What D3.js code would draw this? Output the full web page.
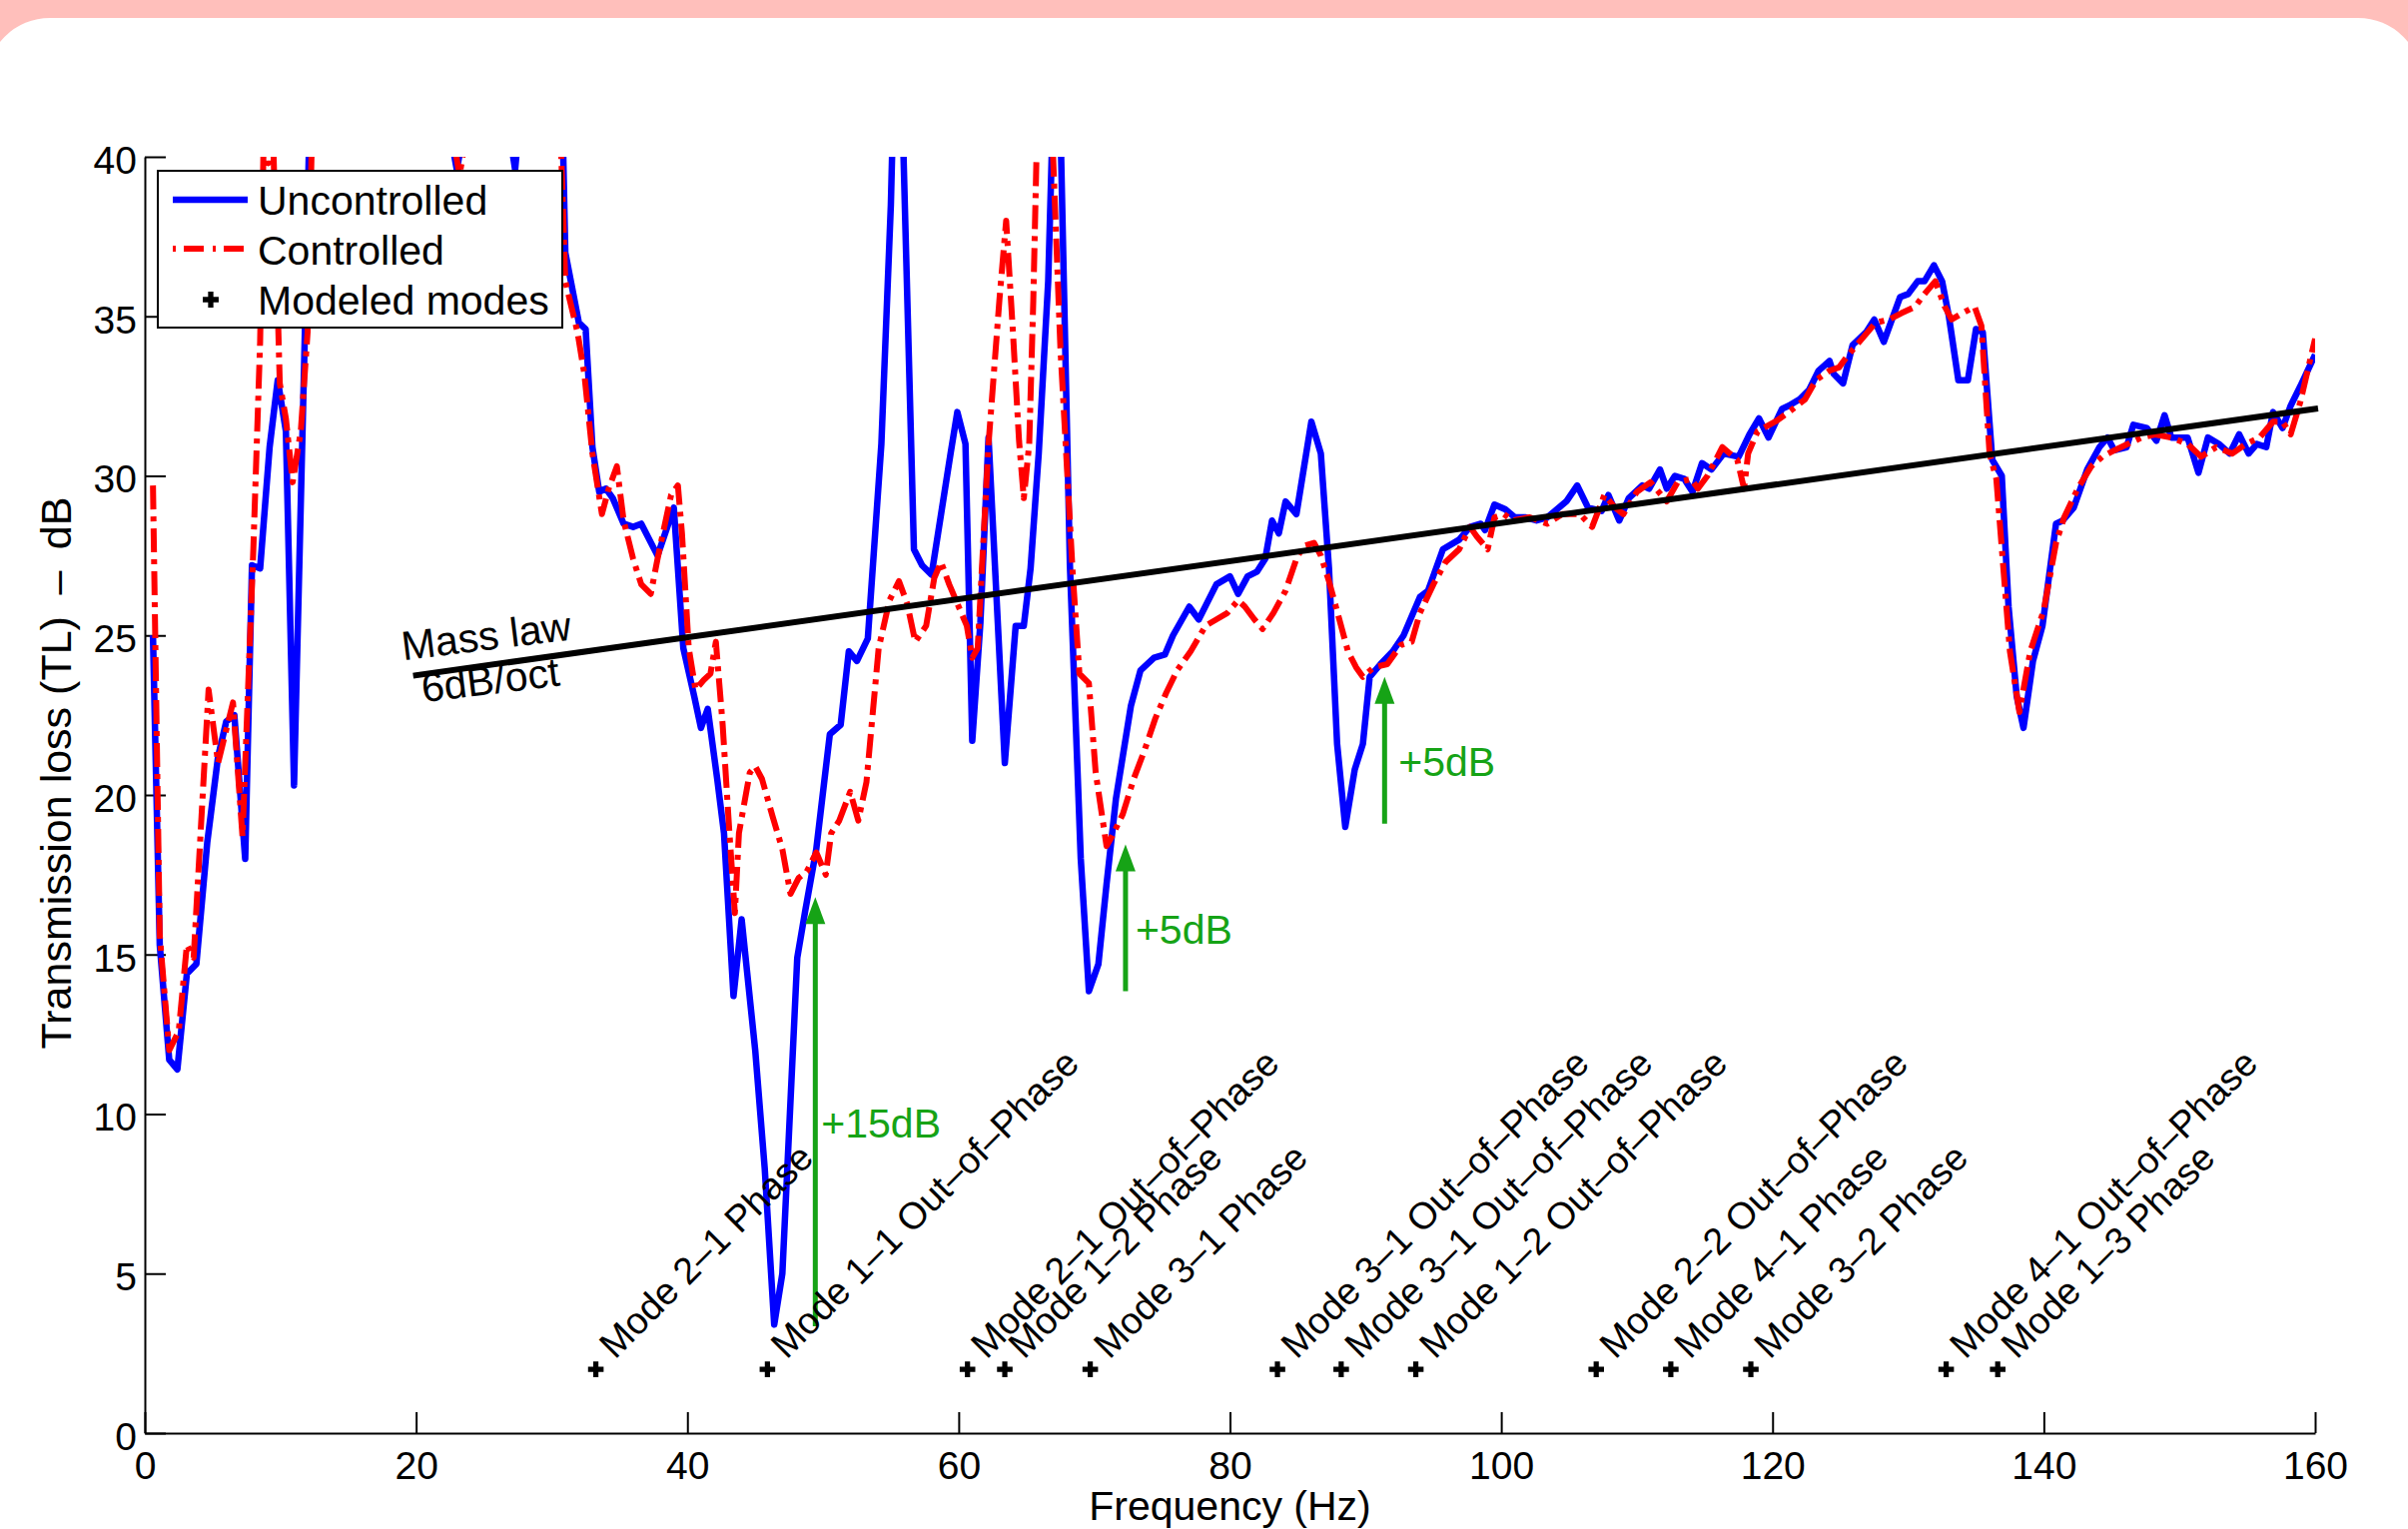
<!DOCTYPE html>
<html lang="en">
<head>
<meta charset="UTF-8">
<script src="https://cdn.jsdelivr.net/npm/d3@7"></script>
<title>Transmission loss</title>
<style>
    * { margin: 0; padding: 0; box-sizing: border-box; }
    body { width: 2411px; height: 1531px; overflow: hidden; background: #ffbfbb; }
    svg { display: block; }
    text { font-family: "Liberation Sans", Arial, Helvetica, sans-serif; fill: #000; }
</style>
</head>
<body>
<svg id="chart" width="2411" height="1531"></svg>
<script>
// ---- data ----
const freqUncontrolled = [
    0.6, 1.1, 1.8, 2.4, 3.1, 3.8, 4.6, 5.4, 6.0, 6.6, 7.4, 7.9, 8.5, 9.2, 9.8, 10.4, 11.0, 11.8, 12.4,
    17.0, 22.4, 23.0, 23.6, 26.8, 27.3, 27.8, 30.6,
    31.0, 32.0, 32.5, 33.0, 33.5, 34.0, 34.5, 35.3, 36.0, 36.6, 37.8, 39.0, 39.7, 40.5, 41.0, 41.5, 42.2, 42.7, 43.4, 44.0, 45.0, 45.7, 46.4, 47.0, 48.1, 48.7, 49.5, 50.5, 51.3, 51.9, 52.5, 53.3, 54.3, 55.0, 55.5,
    56.7, 57.3, 58.0, 59.4, 59.9, 60.5, 61.0, 61.6, 62.2, 63.4, 64.2, 64.8, 65.3, 65.9, 66.6, 67.25, 68.2, 69.0, 69.6,
    70.3, 70.9, 71.6, 72.7, 73.4, 74.4, 75.2, 75.8, 77.0, 77.7, 79.0, 80.0, 80.6, 81.3, 82.0, 82.6, 83.1, 83.6, 84.1, 84.9, 86.0, 86.7, 87.3, 87.9, 88.5, 89.2, 89.8, 90.3, 91.1, 92.0, 92.8, 94.0, 94.6, 95.7, 96.9, 97.7, 98.5, 98.8, 99.5,
    100.3, 101.0, 101.8, 102.6, 103.4, 104.8, 105.6, 106.4, 107.4, 107.9, 108.7, 109.4, 110.4, 110.9, 111.7, 112.2, 112.8, 113.5, 114.1, 114.8, 115.5, 116.4, 117.5, 118.3, 119.0, 119.7,
    120.7, 121.2, 122.0, 122.7, 123.4, 124.2, 124.5, 125.2, 125.9, 126.9, 127.5, 128.2, 129.4, 130.0, 130.7, 131.2, 131.9, 132.5, 133.0, 133.7, 134.4, 135.0, 135.5, 136.2, 136.9, 137.4, 138.0, 138.5, 139.2, 139.9,
    140.9, 141.4, 142.2, 143.2, 144.1, 144.7, 145.2, 146.1, 146.6, 147.6, 148.3, 148.9, 149.4, 150.6, 151.4, 152.1, 152.9, 153.7, 154.4, 155.1, 155.7, 156.4, 156.9, 157.6, 158.2, 158.9, 160.0
];
const tlUncontrolled = [
    25.0, 15.3, 11.7, 11.4, 14.4, 14.7, 18.5, 21.2, 22.3, 22.5, 18.0, 27.2, 27.1, 30.9, 33.0, 31.4, 20.3, 34.5, 46,
    48, 41, 39.6, 41, 41, 39.6, 42, 45,
    37.0, 34.8, 34.6, 30.9, 29.5, 29.6, 29.3, 28.5, 28.4, 28.5, 27.5, 29.0, 24.6, 23.1, 22.1, 22.7, 20.5, 18.8, 13.7, 16.1, 12.0, 8.3, 3.4, 5.0, 14.9, 16.4, 18.3, 21.9, 22.2, 24.5, 24.2, 24.9, 31.0, 38.5, 47,
    27.7, 27.2, 26.9, 30.7, 32.0, 31.0, 21.7, 25.4, 31.2, 21.0, 25.3, 25.3, 27.1, 30.7, 36.1, 46, 27.2, 18.0, 13.85,
    14.7, 17.2, 19.9, 22.8, 23.9, 24.3, 24.4, 25.0, 25.9, 25.5, 26.6, 26.85, 26.3, 26.85, 27.0, 27.4, 28.6, 28.2, 29.2, 28.8, 31.7, 30.7, 27.1, 21.6, 19.0, 20.8, 21.6, 23.7, 24.1, 24.5, 25.0, 26.2, 26.4, 27.7, 28.0, 28.4, 28.5, 28.3, 29.1,
    28.95, 28.7, 28.7, 28.6, 28.7, 29.2, 29.7, 29.0, 28.9, 29.4, 28.6, 29.3, 29.7, 29.6, 30.2, 29.6, 30.0, 29.9, 29.5, 30.4, 30.2, 30.7, 30.6, 31.3, 31.8, 31.2,
    32.1, 32.2, 32.4, 32.7, 33.3, 33.6, 33.2, 32.9, 34.1, 34.5, 34.9, 34.2, 35.6, 35.7, 36.1, 36.1, 36.6, 36.1, 35.0, 33.0, 33.0, 34.6, 34.5, 30.5, 30.0, 25.9, 23.1, 22.1, 24.2, 25.3,
    28.5, 28.6, 29.0, 30.2, 30.9, 31.2, 30.8, 30.9, 31.6, 31.5, 31.1, 31.9, 31.2, 31.2, 30.1, 31.2, 31.0, 30.7, 31.3, 30.7, 31.0, 30.9, 32.0, 31.5, 32.2, 32.8, 33.8
];

const freqControlled = [
    0.6, 1.1, 1.8, 2.5, 3.1, 3.6, 4.7, 5.4, 6.5, 7.2, 8.0, 8.5, 8.8, 9.1, 9.4, 9.95, 10.4, 10.9, 11.5, 12.0, 12.6,
    17.0, 22.6, 23.2, 23.8, 30.4,
    31.0, 31.9, 32.4, 33.0, 33.7, 34.2, 34.8, 35.3, 36.0, 36.6, 37.3, 37.8, 38.8, 39.3, 39.6,
    40.1, 40.6, 41.2, 41.7, 42.1, 42.6, 43.1, 43.5, 43.8, 44.6, 45.0, 45.5, 46.3, 47.0, 47.6, 48.2, 48.8, 49.5,
    50.2, 50.6, 51.2, 52.0, 52.6, 53.2, 54.1, 54.9, 55.6, 56.2, 56.8, 57.6, 58.2, 58.7, 59.3,
    60.0, 60.6, 61.0, 61.4, 62.2, 63.0, 63.5, 64.0, 64.45, 64.8, 65.2, 65.5, 66.1, 66.6, 67.5, 68.4, 68.9, 69.6,
    70.1, 70.9, 71.3, 72.1, 72.9, 73.7, 74.5, 75.3, 76.1, 77.1, 78.2, 79.0, 79.8,
    80.6, 81.1, 81.8, 82.4, 83.2, 84.1, 84.9, 85.4, 86.2, 86.7, 87.3, 88.0, 88.7, 89.3, 89.8,
    90.6, 91.6, 92.6, 93.4, 94.0, 95.0, 95.9, 96.9, 97.7, 98.2, 99.0, 99.5,
    100.2, 100.8, 102.1, 103.4, 104.5, 105.8, 106.7, 107.6, 108.4, 109.0,
    110.0, 111.0, 112.2, 113.0, 114.0, 114.5, 115.2, 116.3, 117.4, 117.9, 118.2, 118.9,
    120.2, 121.2, 122.4, 123.2, 124.2, 124.9, 125.6, 126.6, 127.6, 128.6, 129.5,
    130.5, 131.2, 132.0, 132.7, 133.2, 134.0, 134.9, 135.4, 136.0, 136.5, 137.5, 138.2, 139.0,
    140.0, 140.9, 141.5, 142.5, 143.5, 144.3, 145.2, 146.2, 147.2, 148.2, 149.4,
    150.6, 151.6, 152.7, 153.9, 154.9, 155.9, 156.9, 157.6, 158.2, 158.9, 160.0
];
const tlControlled = [
    29.7, 15.6, 12.0, 12.6, 15.3, 14.9, 23.3, 21.0, 22.9, 18.7, 27.7, 34.2, 41.5, 39.8, 41.5, 32.9, 31.8, 29.8, 31.4, 34.5, 46,
    48, 41, 39.4, 41, 44,
    36.1, 34.5, 33.2, 30.7, 28.8, 29.6, 30.3, 28.6, 27.4, 26.6, 26.3, 27.4, 29.4, 29.7, 28.2,
    24.6, 23.3, 23.6, 23.8, 24.8, 22.2, 18.8, 16.3, 18.8, 20.7, 20.9, 20.5, 19.3, 18.3, 16.9, 17.4, 17.6, 18.2,
    17.5, 18.8, 19.2, 20.1, 19.2, 20.4, 24.6, 26.1, 26.7, 26.0, 24.8, 25.3, 26.8, 27.3, 26.6,
    25.9, 25.3, 24.3, 24.6, 31.0, 35.5, 38.0, 34.5, 31.1, 29.3, 31.0, 35.5, 47, 44, 34.0, 27.0, 23.8, 23.5,
    20.7, 18.4, 18.7, 19.4, 20.5, 21.4, 22.4, 23.2, 23.9, 24.5, 25.3, 25.5, 25.7,
    26.1, 25.9, 25.5, 25.2, 25.7, 26.4, 27.4, 27.8, 27.9, 27.5, 26.7, 25.6, 24.5, 24.0, 23.7,
    24.0, 24.1, 24.7, 24.8, 25.7, 26.6, 27.3, 27.7, 28.4, 28.1, 27.7, 28.7,
    28.8, 28.6, 28.7, 28.5, 28.8, 28.8, 28.4, 29.4, 29.0, 28.8,
    29.5, 29.8, 29.2, 29.8, 29.9, 29.6, 30.0, 30.9, 30.5, 29.6, 30.7, 31.4,
    31.7, 32.0, 32.4, 33.0, 33.3, 33.4, 33.8, 34.3, 34.8, 34.9, 35.1,
    35.3, 35.7, 36.1, 35.3, 34.9, 35.1, 35.3, 34.7, 30.7, 29.9, 24.5, 22.6, 24.5,
    25.8, 27.9, 28.7, 29.6, 30.3, 30.6, 30.8, 31.0, 31.2, 31.3, 31.2,
    31.0, 30.6, 30.9, 30.7, 31.0, 31.2, 31.7, 31.7, 31.3, 32.3, 34.3
];

const massLawFreq = [20, 160];
const massLawTL = [23.75, 32.1];

const modeFreqs = [33.25, 45.9, 60.65, 63.4, 69.7, 83.5, 88.2, 93.7, 107.0, 112.5, 118.4, 132.8, 136.6];
const modeLabels = [
    'Mode 2\u20131 Phase', 'Mode 1\u20131 Out\u2013of\u2013Phase', 'Mode 2\u20131 Out\u2013of\u2013Phase',
    'Mode 1\u20132 Phase', 'Mode 3\u20131 Phase', 'Mode 3\u20131 Out\u2013of\u2013Phase',
    'Mode 3\u20131 Out\u2013of\u2013Phase', 'Mode 1\u20132 Out\u2013of\u2013Phase', 'Mode 2\u20132 Out\u2013of\u2013Phase',
    'Mode 4\u20131 Phase', 'Mode 3\u20132 Phase', 'Mode 4\u20131 Out\u2013of\u2013Phase', 'Mode 1\u20133 Phase'
];
const modeMarkerTL = 2;

const gainFreq = [49.43, 72.3, 91.4];
const gainFrom = [3.35, 13.85, 19.1];
const gainTo = [16.8, 18.45, 23.7];
const gainLabels = ['+15dB', '+5dB', '+5dB'];

const xTicks = [0, 20, 40, 60, 80, 100, 120, 140, 160];
const yTicks = [0, 5, 10, 15, 20, 25, 30, 35, 40];

// ---- drawing ----
const svg = d3.select('#chart');
const green = '#16a316';

svg.append('rect').attr('width', 2411).attr('height', 1531).attr('fill', '#ffbfbb');
svg.append('rect')
    .attr('x', -14).attr('y', 18)
    .attr('width', 2439).attr('height', 1650)
    .attr('rx', 64)
    .attr('fill', '#ffffff');

const plot = { left: 145, right: 2318, top: 157, bottom: 1435 };

const x = d3.scaleLinear().domain([0, 160]).range([plot.left, plot.right]);
const y = d3.scaleLinear().domain([0, 40]).range([plot.bottom, plot.top]);

svg.append('clipPath').attr('id', 'plot-clip')
    .append('rect')
    .attr('x', plot.left).attr('y', plot.top)
    .attr('width', plot.right - plot.left).attr('height', plot.bottom - plot.top);

function styleAxis(g) {
    g.selectAll('path, line').attr('stroke', '#000').attr('stroke-width', 2);
    g.selectAll('text').attr('font-size', 39).attr('fill', '#000')
        .attr('font-family', '"Liberation Sans", Arial, sans-serif');
}

let xAxis = d3.axisBottom(x).tickValues(xTicks).tickSizeInner(-21).tickSizeOuter(0).tickPadding(18);
let yAxis = d3.axisLeft(y).tickValues(yTicks).tickSizeInner(-21).tickSizeOuter(0).tickPadding(8);

svg.append('g')
    .attr('transform', `translate(0, ${plot.bottom})`)
    .call(xAxis)
    .call(styleAxis);

svg.append('g')
    .attr('transform', `translate(${plot.left}, 0)`)
    .call(yAxis)
    .call(styleAxis)
    .call(g => g.selectAll('text').attr('dy', '0.42em'));

// axis titles
svg.append('text')
    .attr('x', (plot.left + plot.right) / 2)
    .attr('y', 1522)
    .attr('text-anchor', 'middle')
    .attr('font-size', 41)
    .text('Frequency (Hz)');

svg.append('text')
    .attr('transform', `translate(71, ${(plot.top + plot.bottom) / 2 - 22}) rotate(-90)`)
    .attr('text-anchor', 'middle')
    .attr('font-size', 43)
    .text('Transmission loss (TL)\u2002\u2013\u2002dB');

// measured curves
let line = d3.line().x(d => x(d[0])).y(d => y(d[1]));
let curves = svg.append('g').attr('clip-path', 'url(#plot-clip)');

curves.append('path')
    .datum(d3.zip(freqUncontrolled, tlUncontrolled))
    .attr('d', line)
    .attr('fill', 'none')
    .attr('stroke', '#0000ff')
    .attr('stroke-width', 6.5)
    .attr('stroke-linejoin', 'round');

curves.append('path')
    .datum(d3.zip(freqControlled, tlControlled))
    .attr('d', line)
    .attr('fill', 'none')
    .attr('stroke', '#ff0000')
    .attr('stroke-width', 6)
    .attr('stroke-linejoin', 'round')
    .attr('stroke-dasharray', '24,7,5,7');

// mass law line
svg.append('path')
    .datum(d3.zip(massLawFreq, massLawTL))
    .attr('d', line)
    .attr('fill', 'none')
    .attr('stroke', '#000')
    .attr('stroke-width', 6)
    .attr('stroke-linecap', 'square');

let mx = x(massLawFreq[0]), my = y(massLawTL[0]);
svg.append('text')
    .attr('transform', `translate(${mx - 13}, ${my - 15}) rotate(-7)`)
    .attr('font-size', 41)
    .text('Mass law');
svg.append('text')
    .attr('transform', `translate(${mx + 7}, ${my + 27}) rotate(-7)`)
    .attr('font-size', 41)
    .text('6dB/oct');

// green gain arrows
let gains = svg.append('g');
gainFreq.forEach((f, i) => {
    let ax = x(f), y0 = y(gainFrom[i]), y1 = y(gainTo[i]);
    gains.append('line')
        .attr('x1', ax).attr('x2', ax)
        .attr('y1', y0).attr('y2', y1 + 20)
        .attr('stroke', green).attr('stroke-width', 5);
    gains.append('path')
        .attr('d', `M${ax},${y1} L${ax - 10},${y1 + 27} L${ax + 10},${y1 + 27} Z`)
        .attr('fill', green);
    gains.append('text')
        .attr('x', ax + 6 + i * 4)
        .attr('y', (y0 + y1) / 2 + 26)
        .attr('font-size', 41)
        .style('fill', green)
        .text(gainLabels[i]);
});

// modeled modes
let modes = svg.append('g');
modes.selectAll('path')
    .data(modeFreqs)
    .join('path')
    .attr('d', d3.symbol(d3.symbolCross, 135))
    .attr('transform', d => `translate(${x(d)}, ${y(modeMarkerTL)})`)
    .attr('fill', '#000');

modes.selectAll('text')
    .data(modeFreqs)
    .join('text')
    .attr('transform', d => `translate(${x(d)}, ${y(modeMarkerTL)}) rotate(-45)`)
    .attr('x', 20)
    .attr('y', 7)
    .attr('font-size', 37.5)
    .text((d, i) => modeLabels[i]);

// legend
let legend = svg.append('g').attr('transform', 'translate(158, 171)');
legend.append('rect')
    .attr('width', 405).attr('height', 157)
    .attr('fill', '#fff').attr('stroke', '#000').attr('stroke-width', 2);

legend.append('line')
    .attr('x1', 15).attr('x2', 90).attr('y1', 29).attr('y2', 29)
    .attr('stroke', '#0000ff').attr('stroke-width', 6.5);
legend.append('line')
    .attr('x1', 15).attr('x2', 90).attr('y1', 78).attr('y2', 78)
    .attr('stroke', '#ff0000').attr('stroke-width', 6)
    .attr('stroke-dasharray', '3,8,20,9,3,8,20,9');
legend.append('path')
    .attr('d', d3.symbol(d3.symbolCross, 140))
    .attr('transform', 'translate(53, 129)')
    .attr('fill', '#000');

['Uncontrolled', 'Controlled', 'Modeled modes'].forEach((t, i) => {
    legend.append('text')
        .attr('x', 100)
        .attr('y', 44 + i * 50)
        .attr('font-size', 41)
        .text(t);
});
</script>
</body>
</html>
